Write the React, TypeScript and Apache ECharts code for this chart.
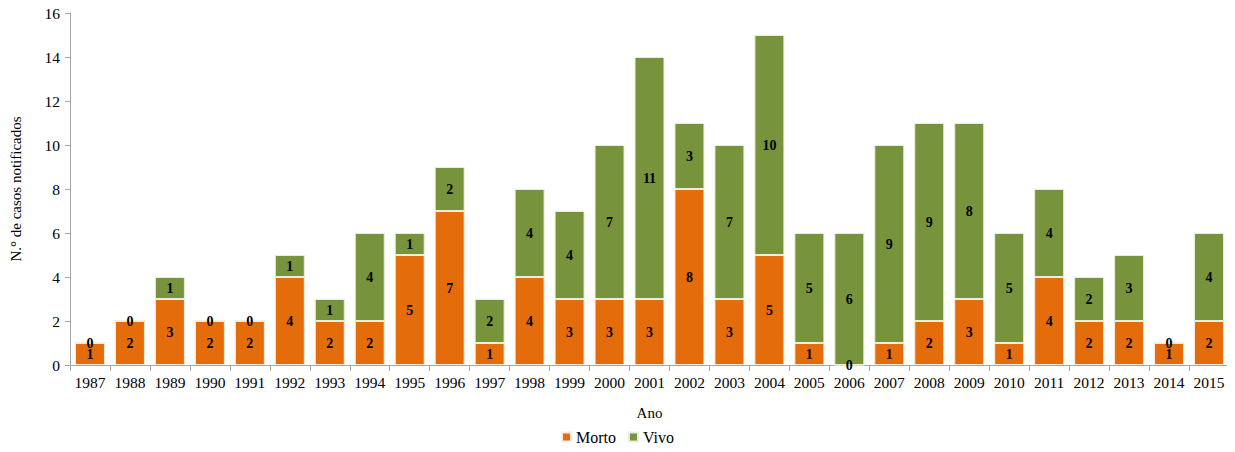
import React, { useEffect, useRef } from "react";
import * as echarts from "echarts";

const years = [
  "1987", "1988", "1989", "1990", "1991", "1992", "1993", "1994", "1995", "1996",
  "1997", "1998", "1999", "2000", "2001", "2002", "2003", "2004", "2005", "2006",
  "2007", "2008", "2009", "2010", "2011", "2012", "2013", "2014", "2015",
];
const morto = [1, 2, 3, 2, 2, 4, 2, 2, 5, 7, 1, 4, 3, 3, 3, 8, 3, 5, 1, 0, 1, 2, 3, 1, 4, 2, 2, 1, 2];
const vivo = [0, 0, 1, 0, 0, 1, 1, 4, 1, 2, 2, 4, 4, 7, 11, 3, 7, 10, 5, 6, 9, 9, 8, 5, 4, 2, 3, 0, 4];

const FONT = "Liberation Serif, serif";

export default function App() {
  const ref = useRef<HTMLDivElement>(null);
  useEffect(() => {
    if (!ref.current) return;
    const chart = echarts.init(ref.current, undefined, { renderer: "svg" });
    const label = {
      show: true,
      position: "inside" as const,
      color: "#000",
      fontWeight: "bold" as const,
      fontSize: 14,
      fontFamily: FONT,
    };
    chart.setOption({
      animation: false,
      textStyle: { fontFamily: FONT },
      grid: { left: 69, right: 6, top: 13, bottom: 87, containLabel: false },
      legend: {
        bottom: 2,
        left: "center",
        itemWidth: 9,
        itemHeight: 9,
        itemGap: 12,
        icon: "rect",
        textStyle: { fontFamily: FONT, fontSize: 16, color: "#000" },
        data: ["Morto", "Vivo"],
      },
      xAxis: {
        type: "category",
        data: years,
        name: "Ano",
        nameLocation: "middle",
        nameGap: 40,
        nameTextStyle: { fontFamily: FONT, fontSize: 15, color: "#000" },
        axisLine: { lineStyle: { color: "#A6A6A6" } },
        axisTick: { show: true, alignWithLabel: false, length: 6, lineStyle: { color: "#A6A6A6" } },
        axisLabel: { fontFamily: FONT, fontSize: 15.5, color: "#000", margin: 9, interval: 0 },
      },
      yAxis: {
        type: "value",
        min: 0,
        max: 16,
        interval: 2,
        name: "N.° de casos notificados",
        nameLocation: "middle",
        nameGap: 47,
        nameTextStyle: { fontFamily: FONT, fontSize: 15, color: "#000" },
        axisLine: { show: true, lineStyle: { color: "#A6A6A6" } },
        axisTick: { show: true, length: 5, lineStyle: { color: "#A6A6A6" } },
        splitLine: { show: false },
        axisLabel: { fontFamily: FONT, fontSize: 15.5, color: "#000", margin: 10 },
      },
      series: [
        {
          name: "Morto",
          type: "bar",
          stack: "total",
          data: morto,
          barWidth: "75%",
          itemStyle: { color: "#E46C0A", borderColor: "#F5EBE0", borderWidth: 1 },
          label,
        },
        {
          name: "Vivo",
          type: "bar",
          stack: "total",
          data: vivo,
          barWidth: "75%",
          itemStyle: { color: "#77933C", borderColor: "#E6EEDC", borderWidth: 1 },
          label,
        },
      ],
    });
    return () => chart.dispose();
  }, []);
  return <div ref={ref} style={{ width: 1235, height: 452, margin: -8 }} />;
}
